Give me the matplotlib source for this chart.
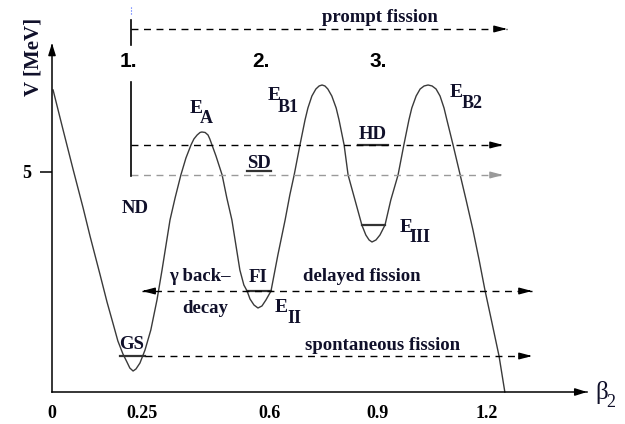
import numpy as np
import matplotlib
matplotlib.use("Agg")
import matplotlib.pyplot as plt

# potential curve V(beta2)
beta = [0.003, 0.030, 0.058, 0.086, 0.105, 0.133, 0.152, 0.169, 0.182, 0.196,
        0.207, 0.215, 0.224, 0.232, 0.243, 0.257, 0.273, 0.290, 0.304, 0.315,
        0.326, 0.340, 0.356, 0.370, 0.384, 0.392, 0.401, 0.409, 0.414, 0.423,
        0.431, 0.436, 0.442, 0.453, 0.470, 0.483, 0.497, 0.508, 0.519, 0.530,
        0.539, 0.547, 0.558, 0.569, 0.580, 0.591, 0.605, 0.624, 0.644, 0.657,
        0.669, 0.685, 0.699, 0.707, 0.718, 0.729, 0.738, 0.746, 0.754, 0.762,
        0.773, 0.785, 0.793, 0.807, 0.818, 0.837, 0.856, 0.867, 0.876, 0.884,
        0.895, 0.906, 0.920, 0.936, 0.956, 0.972, 0.986, 0.994, 1.006, 1.017,
        1.028, 1.039, 1.050, 1.061, 1.072, 1.083, 1.091, 1.108, 1.127, 1.144,
        1.163, 1.180, 1.196, 1.215, 1.235, 1.251]
V = [6.864, 5.977, 5.068, 4.182, 3.545, 2.659, 2.045, 1.545, 1.159, 0.864,
     0.682, 0.545, 0.477, 0.523, 0.659, 0.955, 1.409, 2.091, 2.773, 3.341,
     3.909, 4.409, 4.932, 5.318, 5.614, 5.750, 5.841, 5.898, 5.909, 5.898,
     5.841, 5.750, 5.614, 5.364, 4.932, 4.409, 3.909, 3.341, 2.773, 2.432,
     2.295, 2.114, 1.977, 1.909, 1.955, 2.091, 2.295, 3.114, 3.909, 4.477,
     4.932, 5.614, 6.182, 6.455, 6.727, 6.886, 6.955, 6.977, 6.955, 6.886,
     6.727, 6.455, 6.182, 5.614, 4.932, 4.364, 3.795, 3.568, 3.455, 3.409,
     3.455, 3.568, 3.795, 4.364, 4.932, 5.614, 6.182, 6.455, 6.727, 6.886,
     6.955, 6.977, 6.955, 6.886, 6.727, 6.455, 6.182, 5.614, 4.955, 4.364,
     3.682, 3.000, 2.318, 1.591, 0.818, 0.000]

# short solid level marks (GS, FI, E_III, SD, HD)
level_lo = [0.188, 0.539, 0.856, 0.539, 0.845]
level_hi = [0.257, 0.605, 0.920, 0.605, 0.928]
level_V = [0.818, 2.295, 3.795, 5.023, 5.614]

# dashed decay paths: start, end, energy, colour, arrow at start too
path_lo = [0.218, 0.218, 0.218, 0.249, 0.257]
path_hi = [1.257, 1.246, 1.246, 1.326, 1.326]
path_V = [8.25, 5.614, 4.932, 2.295, 0.818]
path_col = ['black', 'black', '#9a9a9a', 'black', 'black']
path_both = [False, False, False, True, False]

xticks = [0, 0.25, 0.6, 0.9, 1.2]
xticklabels = ['0', '0.25', '0.6', '0.9', '1.2']

serif = 'Liberation Serif'
tcol = '#10102a'

fig = plt.figure(figsize=(6.25, 4.24), dpi=100)
ax = fig.add_axes([52 / 625, 32 / 424, 535 / 625, 347 / 424])
ax.set_xlim(0, 1.478)
ax.set_ylim(0, 7.886)
for s in ['top', 'right']:
    ax.spines[s].set_visible(False)
ax.spines['left'].set_linewidth(1.1)
ax.spines['bottom'].set_linewidth(1.1)

ax.set_xticks(xticks)
ax.set_xticklabels(xticklabels, fontfamily=serif, fontweight='bold', fontsize=13)
ax.tick_params(axis='x', length=0, pad=9)
ax.set_yticks([5])
ax.set_yticklabels(['5'], fontfamily=serif, fontweight='bold', fontsize=13)
ax.tick_params(axis='y', length=9, width=1.1, pad=6)

# axis arrows
ax.annotate('', xy=(1, 0), xytext=(0.985, 0), xycoords='axes fraction',
            arrowprops=dict(arrowstyle='-|>,head_length=0.7,head_width=0.22',
                            color='black', lw=1.1, shrinkA=0, shrinkB=0))
ax.annotate('', xy=(0, 1.005), xytext=(0, 0.985), xycoords='axes fraction',
            arrowprops=dict(arrowstyle='-|>,head_length=0.7,head_width=0.22',
                            color='black', lw=1.1, shrinkA=0, shrinkB=0))

ax.plot(beta, V, color='#3a3a3a', lw=1.0, clip_on=False)

for lo, hi, v in zip(level_lo, level_hi, level_V):
    ax.plot([lo, hi], [v, v], color='#333333', lw=1.6)

for lo, hi, v, c, both in zip(path_lo, path_hi, path_V, path_col, path_both):
    ax.plot([lo, hi], [v, v], color=c, lw=1.0, ls=(0, (5, 4)), clip_on=False)
    ap = dict(arrowstyle='-|>,head_length=0.75,head_width=0.2', color=c,
              lw=1.0, shrinkA=0, shrinkB=0)
    ax.annotate('', xy=(hi, v), xytext=(hi - 0.01, v), arrowprops=ap,
                annotation_clip=False)
    if both:
        ax.annotate('', xy=(lo, v), xytext=(lo + 0.01, v), arrowprops=ap,
                    annotation_clip=False)

# vertical start line
ax.plot([0.218, 0.218], [4.909, 7.045], color='black', lw=1.2)
ax.plot([0.218, 0.218], [7.886, 8.455], color='black', lw=1.2, clip_on=False)
ax.plot([0.219, 0.219], [8.59, 8.75], color='#4060ff', lw=0.8, ls=':', clip_on=False)

# labels
kw = dict(fontfamily=serif, fontweight='bold', fontsize=13.5, color=tcol,
          ha='center', va='center')
ax.text(0.906, 8.52, 'prompt fission', **kw)
ax.text(0.887, 5.86, 'HD', **kw)
ax.text(0.572, 5.20, 'SD', **kw)
ax.text(0.229, 4.18, 'ND', **kw)
ax.text(0.221, 1.07, 'GS', **kw)
ax.text(0.569, 2.60, 'FI', **kw)
ax.text(0.409, 2.62, 'γ back–', **kw)
ax.text(0.423, 1.89, 'decay', **kw)
ax.text(0.856, 2.62, 'delayed fission', **kw)
ax.text(0.912, 1.05, 'spontaneous fission', **kw)

nkw = dict(fontfamily='Liberation Sans', fontweight='bold', fontsize=15,
           color='black', ha='center', va='center')
ax.text(0.210, 7.52, '1.', **nkw)
ax.text(0.577, 7.52, '2.', **nkw)
ax.text(0.901, 7.52, '3.', **nkw)


def elabel(x, y, sub, dx, dy):
    ax.text(x, y, 'E', fontfamily=serif, fontweight='bold', fontsize=14,
            color=tcol, ha='left', va='baseline')
    ax.annotate(sub, xy=(x, y), xytext=(dx, dy), textcoords='offset points',
                fontfamily=serif, fontweight='bold', fontsize=13, color=tcol,
                ha='left', va='baseline')


elabel(0.381, 6.341, 'A', 7.2, -7.2)
elabel(0.597, 6.636, 'B1', 7.2, -8.6)
elabel(1.099, 6.705, 'B2', 8.6, -7.9)
elabel(0.961, 3.636, 'III', 7.2, -7.2)
elabel(0.616, 1.818, 'II', 8.6, -7.9)

ax.text(-0.034, 0.965, 'V [MeV]', transform=ax.transAxes, rotation=90,
        fontfamily=serif, fontweight='bold', fontsize=15, color=tcol,
        ha='center', va='center')
ax.text(1.015, 0.0, 'β', transform=ax.transAxes, fontfamily=serif,
        fontsize=18, color=tcol, ha='left', va='center')
ax.text(1.036, -0.03, '2', transform=ax.transAxes, fontfamily=serif,
        fontsize=13, color=tcol, ha='left', va='center')

fig.savefig('out.png', dpi=100)
